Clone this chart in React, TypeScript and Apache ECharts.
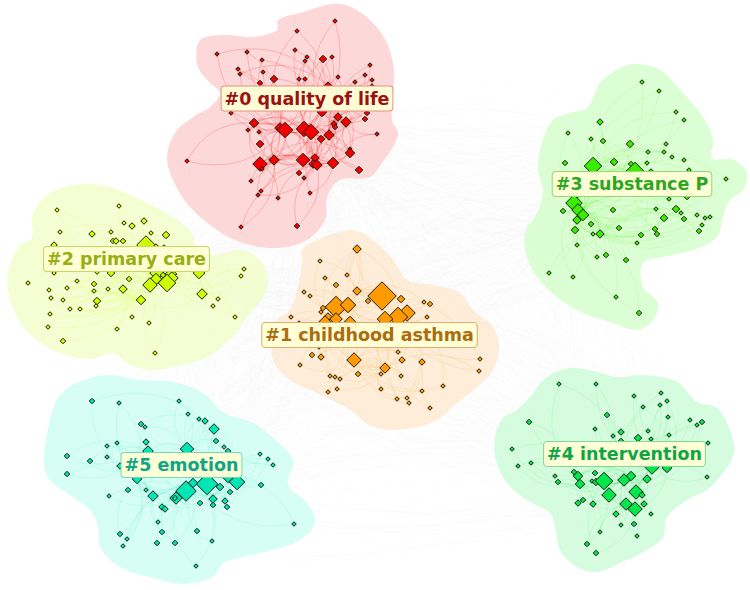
import React, { useEffect, useRef } from "react";
import * as echarts from "echarts";

type Node = [number, number, number];

const labels = ["#0 quality of life", "#1 childhood asthma", "#2 primary care", "#3 substance P", "#4 intervention", "#5 emotion"];
const labelCenters = [[307, 98.5], [369.5, 335], [126.5, 259], [632, 184], [624.5, 454], [181.5, 465]];
const labelColors = ["#9c1010", "#ab6c10", "#98ae10", "#2fa524", "#10a544", "#10a585"];
const labelBorders = ["#e09488", "#d9b070", "#c8d664", "#98d678", "#88d698", "#7ed6b8"];
const nodeColors = ["#f40000", "#ff9a00", "#ccff00", "#39ee00", "#00e84c", "#00e6b4"];
const edgeOpacity = [0.24, 0.16, 0.14, 0.14, 0.14, 0.14];
const blobColors = ["rgba(252,207,207,0.82)", "rgba(252,231,204,0.75)", "rgba(241,253,196,0.75)", "rgba(208,253,197,0.75)", "rgba(200,251,212,0.75)", "rgba(200,253,242,0.75)"];

const nodes0: Node[] = [[335,21,4],[297,31,4],[217,54,4],[247,52,4],[295,50,4],[307,57,4],[305,61,4],[323,59,7],[332,57,4],[370,65,4],[262,60,4],[238,69,4],[240,74,4],[263,72,4],[274,79,7],[260,83,5],[299,79,4],[305,79,4],[338,77,4],[355,82,4],[365,75,4],[372,80,4],[372,86,4],[328,86,8],[231,113,4],[322,112,9],[367,113,5],[365,119,5],[338,117,8],[346,122,10],[334,124,6],[335,127,5],[254,123,9],[248,130,4],[259,132,4],[280,128,10],[285,130,15],[304,129,15],[311,132,15],[329,135,10],[321,139,7],[377,134,4],[260,144,7],[350,149,4],[350,153,9],[187,161,4],[260,164,14],[262,169,4],[274,160,10],[303,160,13],[315,158,8],[313,164,8],[317,165,10],[333,163,11],[359,170,7],[299,173,5],[304,178,4],[251,181,4],[261,191,4],[258,195,4],[278,198,4],[310,193,4],[241,227,4],[297,226,5]];
const nodes1: Node[] = [[357,249,8],[320,261,4],[325,278,4],[347,275,4],[336,285,5],[357,291,8],[304,292,4],[310,296,4],[382,296,28],[368,301,5],[401,299,7],[424,302,4],[430,304,5],[336,307,21],[348,305,15],[323,308,5],[321,312,4],[291,317,4],[328,317,8],[336,319,12],[325,323,14],[350,323,13],[407,313,16],[398,317,19],[385,319,15],[427,317,4],[299,323,4],[312,355,5],[321,357,6],[319,347,4],[354,360,14],[398,352,4],[402,360,6],[422,362,6],[300,365,4],[385,368,10],[358,374,5],[381,374,4],[401,376,4],[330,376,4],[335,377,4],[340,379,4],[337,389,4],[328,392,4],[381,389,4],[422,391,4],[443,386,4],[407,398,4],[397,399,4],[409,403,4],[430,408,4],[480,359,4],[479,371,4]];
const nodes2: Node[] = [[119,206,4],[57,210,4],[124,223,4],[144,221,6],[132,226,6],[60,232,4],[111,232,4],[92,234,6],[151,233,4],[166,235,7],[113,241,5],[116,241,6],[123,241,5],[54,245,6],[146,245,18],[156,246,4],[164,247,4],[54,273,4],[97,272,4],[111,273,7],[199,273,11],[157,273,14],[171,274,11],[172,278,12],[163,275,5],[156,279,11],[150,285,14],[167,283,17],[244,269,4],[241,276,4],[28,283,4],[49,290,4],[77,281,4],[67,288,4],[94,284,5],[94,291,4],[108,289,4],[129,279,5],[123,289,8],[51,298,4],[63,300,4],[97,301,7],[96,306,4],[141,300,9],[202,294,10],[218,299,4],[213,306,4],[70,309,4],[80,309,4],[50,314,4],[132,317,4],[235,317,4],[149,323,4],[48,327,4],[117,329,4],[63,341,5],[155,353,4]];
const nodes3: Node[] = [[642,82,4],[659,91,4],[676,112,4],[684,120,4],[600,122,6],[568,133,4],[591,139,4],[603,141,5],[630,144,7],[666,144,4],[648,152,4],[664,152,4],[672,157,4],[684,160,4],[565,163,5],[593,166,17],[614,162,7],[631,164,5],[647,163,4],[635,171,17],[651,171,4],[689,170,4],[726,179,4],[687,197,5],[669,199,4],[575,196,8],[574,203,16],[578,210,12],[583,215,11],[577,220,8],[563,211,5],[613,210,5],[656,209,4],[676,209,7],[681,213,4],[664,218,7],[684,219,5],[697,215,4],[705,218,4],[710,217,4],[702,225,4],[699,231,5],[591,224,5],[575,230,7],[619,228,5],[655,229,5],[657,234,5],[641,235,5],[593,234,4],[600,234,8],[577,245,4],[637,243,4],[597,257,4],[606,255,5],[626,260,5],[549,273,4],[573,277,4],[616,297,4],[639,313,5]];
const nodes4: Node[] = [[559,384,4],[596,384,4],[634,396,4],[661,393,4],[667,401,4],[643,407,4],[660,405,4],[607,415,5],[668,417,4],[529,422,5],[690,420,4],[697,425,4],[702,422,5],[595,429,4],[621,432,6],[648,431,4],[613,436,4],[669,435,4],[638,438,7],[651,439,4],[621,441,5],[708,443,4],[512,449,4],[531,463,4],[518,466,4],[652,467,14],[667,468,9],[574,472,5],[578,476,9],[555,476,4],[595,473,5],[558,482,5],[580,484,9],[707,477,4],[592,481,4],[596,482,7],[604,481,17],[624,480,12],[631,476,9],[647,479,8],[636,492,14],[642,495,6],[609,495,14],[626,504,12],[635,509,14],[644,504,6],[578,503,6],[583,500,5],[593,504,6],[616,514,6],[651,514,4],[621,525,4],[634,524,5],[600,532,4],[637,536,4],[587,544,5],[596,553,5]];
const nodes5: Node[] = [[92,401,5],[119,403,4],[179,401,4],[188,414,4],[199,419,4],[205,421,6],[141,424,5],[145,427,4],[214,429,10],[146,442,6],[216,441,5],[117,443,4],[107,446,4],[224,447,4],[187,449,13],[148,451,10],[228,451,5],[67,456,5],[260,454,4],[107,457,4],[268,459,4],[90,461,5],[273,465,4],[120,466,6],[67,474,5],[137,479,9],[237,482,15],[228,478,9],[207,484,21],[193,483,9],[220,487,7],[261,485,5],[128,490,5],[146,490,4],[230,492,5],[186,491,20],[176,498,12],[175,498,5],[153,496,10],[109,496,4],[213,499,8],[225,501,6],[200,503,5],[213,505,5],[227,507,5],[162,507,6],[165,509,6],[158,522,4],[294,524,4],[162,532,5],[197,531,5],[120,534,5],[127,539,4],[212,541,4],[157,543,5],[175,543,5],[123,546,4],[196,566,4]];
const clusterNodes = [nodes0, nodes1, nodes2, nodes3, nodes4, nodes5];

const outline0 = [[333,4],[353,8],[373,23],[387,43],[394,70],[393,97],[392,120],[398,133],[393,147],[382,163],[370,177],[340,180],[327,197],[325,220],[307,240],[277,248],[243,243],[217,230],[190,207],[173,180],[167,157],[175,133],[193,117],[210,107],[220,93],[210,83],[198,67],[197,47],[203,38],[227,35],[253,37],[277,30],[278,20],[300,13]];
const outline1 = [[357,231],[373,240],[393,260],[407,280],[433,285],[460,293],[473,310],[493,327],[499,347],[493,370],[477,387],[457,403],[437,420],[407,429],[373,427],[350,410],[317,393],[290,380],[273,360],[273,337],[277,320],[290,310],[297,290],[302,263],[302,250],[317,240],[340,232]];
const outline2 = [[80,184],[113,188],[147,203],[173,217],[192,233],[197,247],[213,255],[240,250],[260,260],[268,280],[263,297],[247,317],[233,337],[207,357],[173,367],[147,370],[127,363],[113,353],[90,359],[60,353],[33,337],[15,313],[7,283],[12,260],[20,245],[32,238],[32,217],[47,195]];
const outline3 = [[637,64],[660,70],[683,93],[703,117],[713,140],[712,158],[733,160],[747,173],[743,190],[730,200],[723,217],[717,237],[693,250],[663,257],[643,263],[643,287],[658,303],[653,320],[637,330],[613,323],[583,313],[557,297],[537,277],[527,257],[525,233],[537,213],[543,190],[538,170],[542,143],[553,120],[570,113],[588,107],[600,83],[620,68]];
const outline4 = [[570,368],[597,372],[617,377],[643,375],[677,382],[697,402],[717,408],[730,430],[734,453],[723,473],[707,490],[687,500],[667,517],[663,537],[647,550],[620,563],[597,572],[577,567],[560,550],[555,527],[550,513],[527,500],[507,483],[496,460],[495,437],[503,418],[517,410],[530,397],[547,377]];
const outline5 = [[107,375],[140,380],[173,382],[203,393],[223,412],[253,423],[273,438],[293,460],[288,485],[307,503],[315,523],[300,540],[273,550],[243,557],[223,563],[213,577],[183,584],[153,578],[120,567],[100,547],[98,527],[90,510],[67,493],[50,480],[44,463],[50,420],[60,395],[77,383]];
const clusterOutlines = [outline0, outline1, outline2, outline3, outline4, outline5];

function buildLinks(nodes: Node[]) {
  const hubs = nodes.map((n, i) => (n[2] >= 8 ? i : -1)).filter((i) => i >= 0);
  const links: any[] = [];
  nodes.forEach((n, i) => {
    const near = hubs
      .filter((h) => h !== i)
      .map((h) => ({ h, d: Math.hypot(nodes[h][0] - n[0], nodes[h][1] - n[1]) }))
      .sort((a, b) => a.d - b.d);
    [near[1], near[4]].forEach((e, k) => {
      if (e) links.push({ source: i, target: e.h, lineStyle: { curveness: (i + k) % 2 ? 0.32 : -0.32 } });
    });
  });
  hubs.forEach((a, i) => {
    hubs.slice(i + 1).forEach((b, j) => {
      if (j % 3 === 0) links.push({ source: a, target: b, lineStyle: { curveness: j % 2 ? 0.35 : -0.35 } });
    });
  });
  return links;
}

function buildBackground() {
  const all: Node[] = [];
  const offsets: number[] = [];
  clusterNodes.forEach((c) => {
    offsets.push(all.length);
    all.push(...c);
  });
  const links: any[] = [];
  clusterNodes.forEach((a, ia) => {
    clusterNodes.forEach((b, ib) => {
      if (ib <= ia) return;
      a.forEach((n, i) => {
        if (n[2] < 8) return;
        b.forEach((m, j) => {
          if ((i + j) % 7 === 0) {
            links.push({ source: offsets[ia] + i, target: offsets[ib] + j, lineStyle: { curveness: (i + j) % 2 ? 0.18 : -0.18 } });
          }
        });
      });
    });
  });
  return { all, links };
}

export default function App() {
  const ref = useRef<HTMLDivElement>(null);
  useEffect(() => {
    const chart = echarts.init(ref.current!, undefined, { renderer: "svg" });
    const bg = buildBackground();
    const blobSeries = clusterOutlines.map((outline, c) => ({
      type: "custom",
      coordinateSystem: "cartesian2d",
      silent: true,
      z: 2,
      data: outline,
      encode: { x: 0, y: 1 },
      renderItem: (params: any, api: any) =>
        params.dataIndex === 0
          ? {
              type: "polygon",
              shape: { points: outline.map((p) => api.coord(p)), smooth: 0.35 },
              style: { fill: blobColors[c] },
            }
          : null,
    }));
    const graphSeries = clusterNodes.map((nodes, c) => ({
      type: "graph",
      coordinateSystem: "cartesian2d",
      layout: "none",
      silent: true,
      z: 3,
      symbol: "diamond",
      data: nodes.map((n) => ({ value: [n[0], n[1]], symbolSize: n[2] + 0.5 })),
      links: buildLinks(nodes),
      itemStyle: { color: nodeColors[c], borderColor: "#1c1c12", borderWidth: 1, opacity: 1 },
      lineStyle: { color: nodeColors[c], width: 0.8, opacity: edgeOpacity[c] },
    }));
    chart.setOption({
      animation: false,
      backgroundColor: "#ffffff",
      grid: { left: 0, right: 0, top: 0, bottom: 0 },
      xAxis: { type: "value", min: 0, max: 750, show: false },
      yAxis: { type: "value", min: 0, max: 590, inverse: true, show: false },
      series: [
        {
          type: "graph",
          coordinateSystem: "cartesian2d",
          layout: "none",
          silent: true,
          z: 1,
          symbolSize: 0,
          data: bg.all.map((n) => ({ value: [n[0], n[1]] })),
          links: bg.links,
          itemStyle: { opacity: 0 },
          lineStyle: { color: "#d8d8d8", width: 0.5, opacity: 0.07 },
        },
        ...blobSeries,
        ...graphSeries,
        {
          type: "scatter",
          z: 5,
          silent: true,
          symbolSize: 1,
          itemStyle: { color: "transparent", opacity: 1 },
          data: labels.map((name, i) => ({
            name,
            value: labelCenters[i],
            label: {
              show: true,
              position: "inside",
              formatter: name,
              fontFamily: "DejaVu Sans",
              fontWeight: "bold",
              fontSize: 17.5,
              lineHeight: 18,
              opacity: 1,
              color: labelColors[i],
              backgroundColor: "rgba(255,255,214,0.95)",
              borderColor: labelBorders[i],
              borderWidth: 1,
              borderRadius: 3,
              padding: [3, 3, 3, 3],
            },
          })),
        },
      ],
    });
    return () => chart.dispose();
  }, []);
  return <div ref={ref} style={{ position: "absolute", left: 0, top: 0, width: 750, height: 590 }} />;
}
